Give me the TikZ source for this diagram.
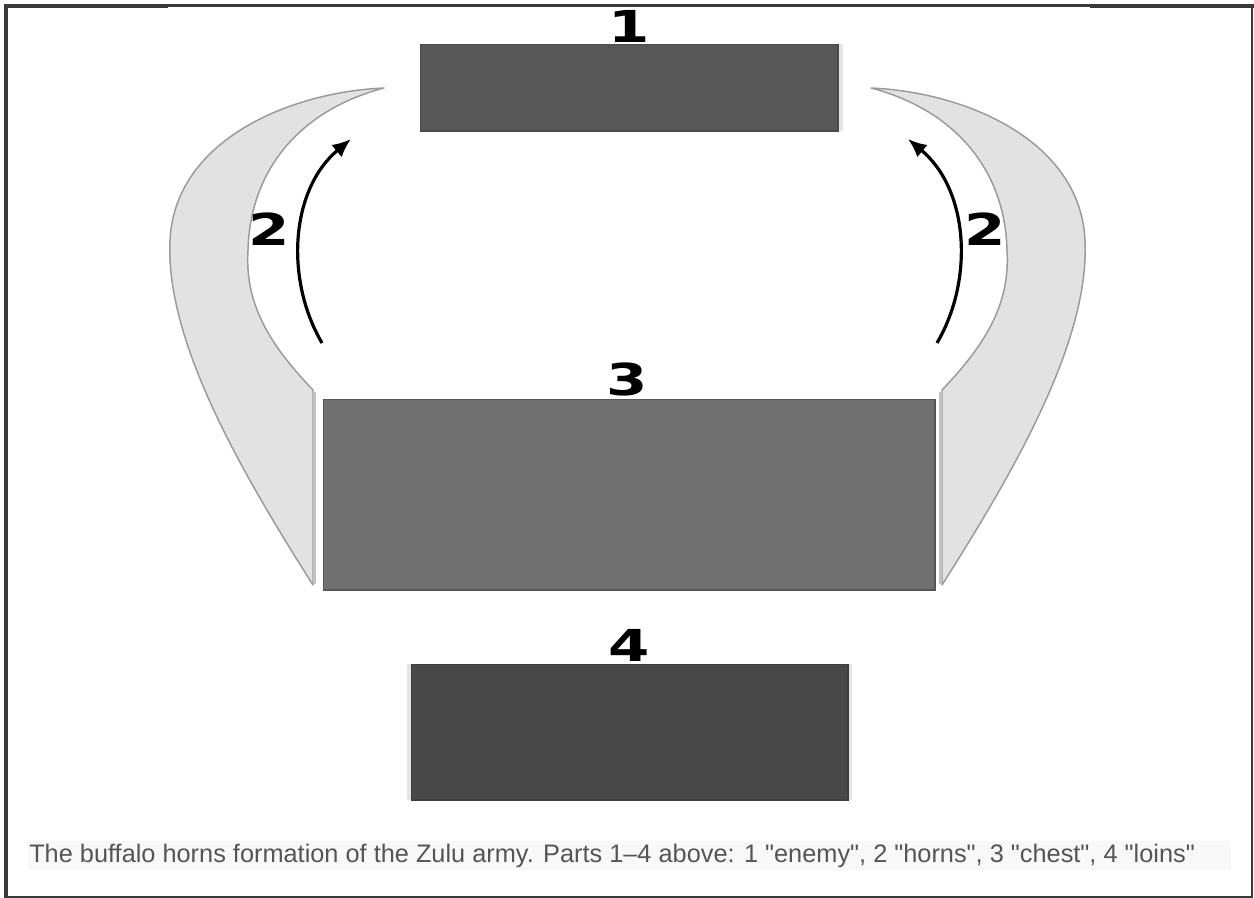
\documentclass[tikz,border=0pt]{standalone}
\usepackage{fontspec}
\setmainfont{Liberation Sans}
\newfontfamily\capfont{Liberation Sans}
\newfontfamily\numfont{DejaVu Sans}
\usetikzlibrary{arrows.meta}
\definecolor{framec}{HTML}{3A3A3A}
\definecolor{enemyfill}{HTML}{575757}
\definecolor{enemyline}{HTML}{4B4B4B}
\definecolor{chestfill}{HTML}{717171}
\definecolor{chestline}{HTML}{565656}
\definecolor{loinsfill}{HTML}{484848}
\definecolor{loinsline}{HTML}{3E3E3E}
\definecolor{hornfill}{HTML}{E2E2E2}
\definecolor{hornline}{HTML}{9A9A9A}
\definecolor{hornedge}{HTML}{C2C2C2}
\definecolor{edgelight}{HTML}{E4E4E4}
\definecolor{captext}{HTML}{555555}
\definecolor{capband}{HTML}{F8F8F8}
\begin{document}
\begin{tikzpicture}[x=0.75pt,y=-0.75pt,
  framebar/.style={fill=framec},
  block/.style={line width=1.3pt},
  hornshape/.style={fill=hornfill, draw=hornline, line width=1.1pt, line join=round},
  hornside/.style={draw=hornedge, line width=2.6pt},
  num/.style={font=\numfont\bfseries\fontsize{33}{33}\selectfont, text=black, inner sep=0pt},
  movearrow/.style={draw=black, line width=2.4pt, -{Latex[length=14pt,width=12pt]}},
  caption/.style={font=\capfont\fontsize{19}{22}\selectfont, text=captext, inner sep=0pt, anchor=base west}]
\useasboundingbox (0,0) rectangle (1254,898);
% frame
\fill[framebar] (4,4) rectangle (8,898);
\fill[framebar] (4,4) rectangle (1254,7);
\fill[framebar] (4,4) rectangle (168,8.5);
\fill[framebar] (1090,4) rectangle (1254,8.5);
\fill[framebar] (1250.5,4) rectangle (1253,898);
\fill[framebar] (4,895.5) rectangle (1253,898);
% horns
\draw[hornshape] (384,88) .. controls (290,92) and (175,140) .. (170,240)
  .. controls (165,340) and (240,470) .. (313,585) -- (313,390)
  .. controls (265,340) and (245,300) .. (248,250)
  .. controls (250,170) and (300,110) .. cycle;
\draw[hornside] (314.5,392) -- (314.5,584);
\begin{scope}[xshift=1255*0.75pt, xscale=-1]
\draw[hornshape] (384,88) .. controls (290,92) and (175,140) .. (170,240)
  .. controls (165,340) and (240,470) .. (313,585) -- (313,390)
  .. controls (265,340) and (245,300) .. (248,250)
  .. controls (250,170) and (300,110) .. cycle;
\draw[hornside] (314.5,392) -- (314.5,584);
\end{scope}
% blocks
\fill[edgelight] (838,44) rectangle (843,131);
\filldraw[block, fill=enemyfill, draw=enemyline] (420.5,44.5) rectangle (838,131);
\filldraw[block, fill=chestfill, draw=chestline] (323.5,399.5) rectangle (935,590);
\fill[edgelight] (407,664) rectangle (852,800);
\filldraw[block, fill=loinsfill, draw=loinsline] (411.5,664.5) rectangle (848,800);
% labels
\node[num] (n1) at (629.5,26.5) {\scalebox{1.35}[1]{1}};
\node[num] (n3) at (627,379) {\scalebox{1.35}[1]{3}};
\node[num] (n4) at (629,645.5) {\scalebox{1.35}[1]{4}};
\node[num] (n2l) at (269.5,229) {\scalebox{1.35}[1]{2}};
\node[num] (n2r) at (985,229) {\scalebox{1.35}[1]{2}};
% arrows
\coordinate (la0) at (322,343);
\coordinate (la1) at (351,139);
\coordinate (ra0) at (937,343);
\coordinate (ra1) at (908,139);
\draw[movearrow] (la0) .. controls (285,280) and (290,190) .. (la1);
\draw[movearrow] (ra0) .. controls (974,280) and (969,190) .. (ra1);
% caption
\fill[capband] (28,840.5) rectangle (1231,870);
\node[caption] (cap) at (29,862.7) {The buffalo horns formation of the Zulu army. Parts 1–4 above: 1 "enemy", 2 "horns", 3 "chest", 4 "loins"};
\end{tikzpicture}
\end{document}
